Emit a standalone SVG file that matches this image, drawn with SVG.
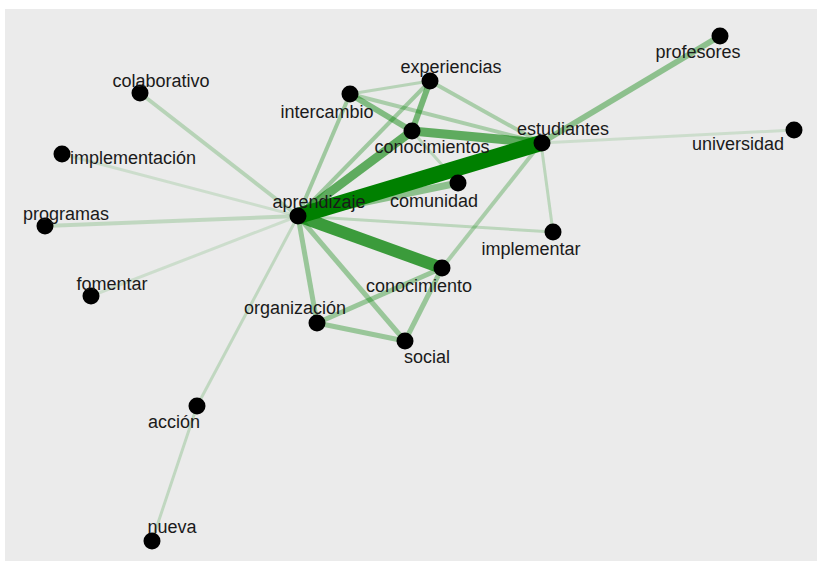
<svg xmlns="http://www.w3.org/2000/svg" width="819" height="561" viewBox="0 0 819 561">
<style>
.e{stroke:#008000;fill:none;stroke-linecap:butt}
.n circle{fill:#000}
.n text{font-family:"Liberation Sans",Arial,sans-serif;font-size:18px;fill:#1a1a1a;text-anchor:middle}
</style>
<rect x="0" y="0" width="819" height="561" fill="#ffffff"/>
<rect x="5" y="9" width="812" height="552" fill="#ebebeb"/>
<g id="edges">
<line class="e" x1="298" y1="216" x2="140" y2="93" stroke-width="4" stroke-opacity="0.22"/>
<line class="e" x1="298" y1="216" x2="62" y2="154" stroke-width="3" stroke-opacity="0.13"/>
<line class="e" x1="298" y1="216" x2="45" y2="226" stroke-width="4" stroke-opacity="0.18"/>
<line class="e" x1="298" y1="216" x2="91" y2="296" stroke-width="3" stroke-opacity="0.13"/>
<line class="e" x1="298" y1="216" x2="197" y2="406" stroke-width="3" stroke-opacity="0.18"/>
<line class="e" x1="197" y1="406" x2="152" y2="541" stroke-width="3" stroke-opacity="0.18"/>
<line class="e" x1="541" y1="143" x2="794" y2="130" stroke-width="3" stroke-opacity="0.13"/>
<line class="e" x1="541" y1="143" x2="553" y2="232" stroke-width="3" stroke-opacity="0.2"/>
<line class="e" x1="298" y1="216" x2="553" y2="232" stroke-width="3" stroke-opacity="0.2"/>
<line class="e" x1="541" y1="143" x2="720" y2="36" stroke-width="6" stroke-opacity="0.4"/>
<line class="e" x1="541" y1="143" x2="442" y2="268" stroke-width="4" stroke-opacity="0.28"/>
<line class="e" x1="350" y1="94" x2="430" y2="81" stroke-width="3" stroke-opacity="0.22"/>
<line class="e" x1="350" y1="94" x2="541" y2="143" stroke-width="4" stroke-opacity="0.28"/>
<line class="e" x1="430" y1="81" x2="541" y2="143" stroke-width="4" stroke-opacity="0.28"/>
<line class="e" x1="412" y1="131" x2="458" y2="183" stroke-width="3" stroke-opacity="0.2"/>
<line class="e" x1="298" y1="216" x2="350" y2="94" stroke-width="4" stroke-opacity="0.32"/>
<line class="e" x1="298" y1="216" x2="430" y2="81" stroke-width="4" stroke-opacity="0.32"/>
<line class="e" x1="412" y1="131" x2="430" y2="81" stroke-width="6" stroke-opacity="0.5"/>
<line class="e" x1="350" y1="94" x2="412" y2="131" stroke-width="6" stroke-opacity="0.45"/>
<line class="e" x1="298" y1="216" x2="317" y2="323" stroke-width="5" stroke-opacity="0.35"/>
<line class="e" x1="298" y1="216" x2="405" y2="341" stroke-width="5" stroke-opacity="0.35"/>
<line class="e" x1="317" y1="323" x2="442" y2="268" stroke-width="5" stroke-opacity="0.35"/>
<line class="e" x1="317" y1="323" x2="405" y2="341" stroke-width="5" stroke-opacity="0.35"/>
<line class="e" x1="442" y1="268" x2="405" y2="341" stroke-width="5" stroke-opacity="0.35"/>
<line class="e" x1="298" y1="216" x2="458" y2="183" stroke-width="7" stroke-opacity="0.4"/>
<line class="e" x1="412" y1="131" x2="541" y2="143" stroke-width="9" stroke-opacity="0.6"/>
<line class="e" x1="298" y1="216" x2="412" y2="131" stroke-width="9" stroke-opacity="0.6"/>
<line class="e" x1="298" y1="216" x2="442" y2="268" stroke-width="12" stroke-opacity="0.75"/>
<line class="e" x1="298" y1="216" x2="541" y2="143" stroke-width="16" stroke-opacity="1"/>
</g>
<g id="node-profesores" class="n"><circle cx="720" cy="36" r="8.5"/><text x="698" y="58">profesores</text></g>
<g id="node-experiencias" class="n"><circle cx="430" cy="81" r="8.5"/><text x="451" y="73">experiencias</text></g>
<g id="node-colaborativo" class="n"><circle cx="140" cy="93" r="8.5"/><text x="161" y="87">colaborativo</text></g>
<g id="node-intercambio" class="n"><circle cx="350" cy="94" r="8.5"/><text x="327" y="118">intercambio</text></g>
<g id="node-universidad" class="n"><circle cx="794" cy="130" r="8.5"/><text x="738" y="150">universidad</text></g>
<g id="node-conocimientos" class="n"><circle cx="412" cy="131" r="8.5"/><text x="432" y="153">conocimientos</text></g>
<g id="node-estudiantes" class="n"><circle cx="542" cy="143" r="8.5"/><text x="563" y="135">estudiantes</text></g>
<g id="node-implementacion" class="n"><circle cx="62" cy="154" r="8.5"/><text x="133" y="164">implementación</text></g>
<g id="node-comunidad" class="n"><circle cx="458" cy="183" r="8.5"/><text x="434" y="207">comunidad</text></g>
<g id="node-aprendizaje" class="n"><circle cx="298" cy="216" r="8.5"/><text x="319" y="208">aprendizaje</text></g>
<g id="node-programas" class="n"><circle cx="45" cy="226" r="8.5"/><text x="66" y="220">programas</text></g>
<g id="node-implementar" class="n"><circle cx="553" cy="232" r="8.5"/><text x="531" y="255">implementar</text></g>
<g id="node-conocimiento" class="n"><circle cx="442" cy="268" r="8.5"/><text x="419" y="292">conocimiento</text></g>
<g id="node-fomentar" class="n"><circle cx="91" cy="296" r="8.5"/><text x="112" y="290">fomentar</text></g>
<g id="node-organizacion" class="n"><circle cx="317" cy="323" r="8.5"/><text x="295" y="314">organización</text></g>
<g id="node-social" class="n"><circle cx="405" cy="341" r="8.5"/><text x="427" y="363">social</text></g>
<g id="node-accion" class="n"><circle cx="197" cy="406" r="8.5"/><text x="174" y="428">acción</text></g>
<g id="node-nueva" class="n"><circle cx="152" cy="541" r="8.5"/><text x="172" y="533">nueva</text></g>
</svg>
